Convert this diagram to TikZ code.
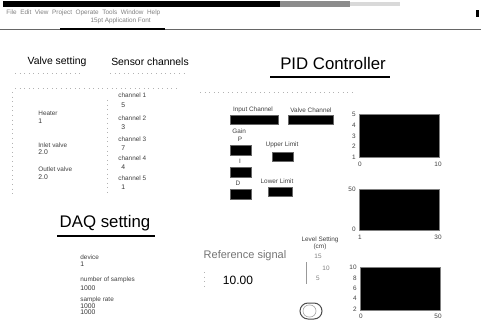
\documentclass[tikz,border=0pt]{standalone}
\usepackage{fontspec}
\setmainfont{Liberation Sans}

\tikzset{
  lbl/.style={font=\fontsize{3.2}{3.6}\selectfont, text=black!75, inner sep=0pt},
  val/.style={font=\fontsize{3.4}{3.8}\selectfont, text=black!80, inner sep=0pt},
  ttl/.style={font=\fontsize{5.2}{6}\selectfont, inner sep=0pt},
  bigttl/.style={font=\fontsize{8.4}{9}\selectfont, inner sep=0pt},
  ctrl/.style={fill=black, draw=black!60},
  plotbox/.style={fill=black, draw=black!50},
  dots/.style={gray!60, dotted, line width=0.3pt}
}

\begin{document}
\begin{tikzpicture}[x=0.5pt, y=-0.5pt]
    \useasboundingbox (0,0) rectangle (481,320);

    % Window title bar, menu and toolbar
    \fill[black] (3,1) rectangle (280,7);
    \fill[black!45] (280,1) rectangle (350,7);
    \fill[black!15] (350,2) rectangle (400,6);
    \node[lbl, anchor=west, text=black!50] (menu) at (6,13) {File\ \ Edit\ \ View\ \ Project\ \ Operate\ \ Tools\ \ Window\ \ Help};
    \node[lbl, anchor=west, text=black!50] (tools) at (60,21) {\ \ \ \ \ \ \ \ \ \ \ \ \ \ \ \ \ 15pt Application Font};
    \fill[black] (476,10) rectangle (479,17);
    \draw[black!60, line width=0.4pt] (0,29) -- (481,29);
    \draw[black, line width=0.7pt] (60,29) -- (165,29);

    % Valve and sensor section
    \node[ttl] (valve) at (57,62) {Valve setting};
    \node[ttl] (sensor) at (150,62) {Sensor channels};
    \draw[dots] (15,73) -- (80,73);
    \draw[dots] (110,73) -- (185,73);
    \draw[dots] (15,88) -- (180,88);
    \draw[dots] (12,92) -- (12,195);
    \draw[dots] (107,100) -- (107,195);

    \node[lbl, anchor=west] (heater) at (38,113) {Heater};
    \node[val, anchor=west] (heaterv) at (38,121) {1};
    \node[lbl, anchor=west] (inlet) at (38,145) {Inlet valve};
    \node[val, anchor=west] (inletv) at (38,152) {2.0};
    \node[lbl, anchor=west] (outlet) at (38,169) {Outlet valve};
    \node[val, anchor=west] (outletv) at (38,177) {2.0};

    \foreach \n/\y/\v in {1/95/5, 2/118/3, 3/139/7, 4/158/4, 5/178/1}
        \node[lbl, anchor=west] (ch\n) at (118,\y) {channel \n};
    \foreach \n/\y/\v in {1/105/5, 2/127/3, 3/148/7, 4/167/4, 5/187/1}
        \node[val, anchor=west] (chv\n) at (121,\y) {\v};

    % PID section
    \node[bigttl] (pid) at (333,63) {PID Controller};
    \draw[black, line width=0.6pt] (270,77) -- (390,77);
    \draw[dots] (200,92) -- (355,92);

    \node[lbl] (inch) at (253,110) {Input Channel};
    \filldraw[ctrl] (230,115) rectangle (278,124);
    \node[lbl] (vch) at (311,110) {Valve Channel};
    \filldraw[ctrl] (288,115) rectangle (333,124);

    \node[lbl, anchor=west] (gain) at (232,131) {Gain};
    \node[lbl] (pl) at (240,139) {P};
    \filldraw[ctrl] (230,145) rectangle (251,155);
    \node[lbl] (il) at (240,161) {I};
    \filldraw[ctrl] (230,167) rectangle (251,177);
    \node[lbl] (dl) at (238,183) {D};
    \filldraw[ctrl] (230,189) rectangle (251,199);

    \node[lbl] (upper) at (282,145) {Upper Limit};
    \filldraw[ctrl] (272,152) rectangle (293,161);
    \node[lbl] (lower) at (277,181) {Lower Limit};
    \filldraw[ctrl] (268,187) rectangle (292,196);

    % Charts
    \filldraw[plotbox] (359,114) rectangle (439,157);
    \foreach \t/\y in {5/114, 4/125, 3/136, 2/146, 1/157}
        \node[lbl, anchor=east] (ya\t) at (356,\y) {\t};
    \node[lbl] (xa0) at (360,164) {0};
    \node[lbl] (xa1) at (438,164) {10};

    \filldraw[plotbox] (359,189) rectangle (439,230);
    \node[lbl, anchor=east] (yb1) at (356,189) {50};
    \node[lbl, anchor=east] (yb0) at (356,229) {0};
    \node[lbl] (xb0) at (360,237) {1};
    \node[lbl] (xb1) at (438,237) {30};

    \filldraw[plotbox] (360,267) rectangle (440,310);
    \foreach \t/\y in {10/267, 8/278, 6/288, 4/298, 2/309}
        \node[lbl, anchor=east] (yc\t) at (357,\y) {\t};
    \node[lbl] (xc0) at (361,316) {0};
    \node[lbl] (xc1) at (438,316) {50};

    % Reference signal and level setting
    \node[font=\fontsize{5.5}{6}\selectfont, text=black!55, inner sep=0pt] (ref) at (245,256) {Reference signal};
    \node[font=\fontsize{6}{7}\selectfont, inner sep=0pt] (refv) at (238,280) {10.00};
    \draw[dots] (204,272) -- (204,290);
    \node[lbl, align=center] (level) at (320,243) {Level Setting\\(cm)};
    \foreach \t/\x/\y in {15/318/256, 10/326/268, 5/318/278}
        \node[lbl, text=black!50] (lt\t) at (\x,\y) {\t};
    \draw[black!40, line width=0.3pt] (306,262) -- (306,284);

    % On/off switch
    \draw[black!70, line width=0.5pt, rounded corners=4pt] (300,303) rectangle (322,319);
    \draw[black!35, line width=0.3pt, rounded corners=3pt] (303,305) rectangle (316,317);

    % DAQ section
    \node[bigttl] (daq) at (105,223) {DAQ setting};
    \draw[black, line width=0.6pt] (57,236) -- (155,236);
    \node[lbl, anchor=west] (dev) at (80,257) {device};
    \node[val, anchor=west] (devv) at (80,264) {1};
    \node[lbl, anchor=west] (nsamp) at (80,280) {number of samples};
    \node[val, anchor=west] (nsampv) at (80,288) {1000};
    \node[lbl, anchor=west] (rate) at (80,300) {sample rate};
    \node[val, anchor=west] (ratev) at (80,306) {1000};
    \node[val, anchor=west] (ratew) at (80,312) {1000};
\end{tikzpicture}
\end{document}
